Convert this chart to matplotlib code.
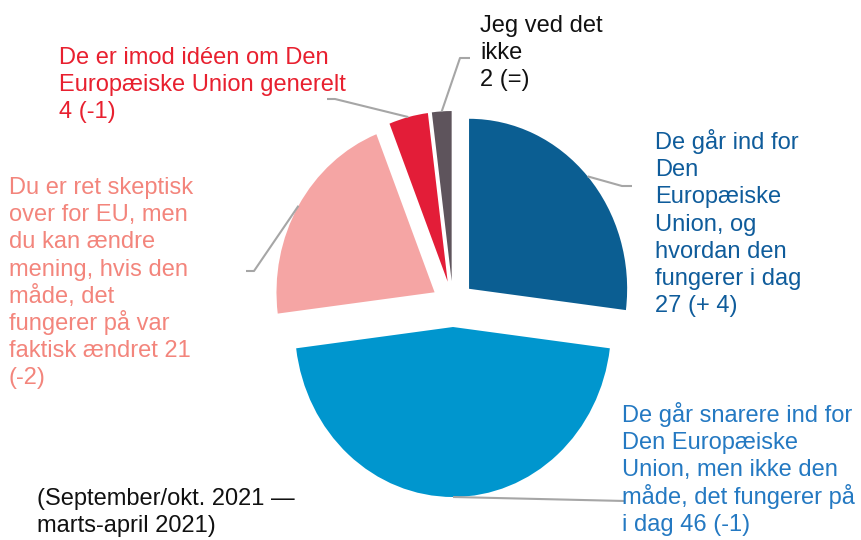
import numpy as np
import matplotlib
matplotlib.use("Agg")
import matplotlib.pyplot as plt

plt.rcParams['font.family'] = ['Liberation Sans', 'DejaVu Sans']

# survey shares (%), clockwise from 12 o'clock
values = [27, 46, 21, 4, 2]
colors = ['#0B5E92', '#0096CE', '#F5A5A4', '#E31D38', '#5E545C']
text_colors = ['#0F5C9B', '#2479C2', '#F3857C', '#E8202F', '#111111']
labels = [
    "De går ind for\nDen\nEuropæiske\nUnion, og\nhvordan den\nfungerer i dag\n27 (+ 4)",
    "De går snarere ind for\nDen Europæiske\nUnion, men ikke den\nmåde, det fungerer på\ni dag 46 (-1)",
    "Du er ret skeptisk\nover for EU, men\ndu kan ændre\nmening, hvis den\nmåde, det\nfungerer på var\nfaktisk ændret 21\n(-2)",
    "De er imod idéen om Den\nEuropæiske Union generelt\n4 (-1)",
    "Jeg ved det\nikke\n2 (=)",
]
footnote = "(September/okt. 2021 —\nmarts-april 2021)"

W, H = 861, 540
K = 1 / 0.93  # pie is a bit squeezed horizontally in the original
PITCH = 27.2

fig = plt.figure(figsize=(W / 100, H / 100), dpi=100)
ax = fig.add_axes([0, 0, 1, 1])


def px(x):
    return x * K


def py(y):
    # pixel row (from top) -> data y
    return H - y


def block(x, y0, txt, color):
    # one text per line so accented lines don't widen the spacing
    for i, line in enumerate(txt.split("\n")):
        ax.text(px(x), py(y0 + i * PITCH), line, color=color, fontsize=17,
                ha='left', va='baseline')


cx, cy, R = px(453), py(304), 170
wedges, _ = ax.pie(values, colors=colors, startangle=90, counterclock=False,
                   center=(cx, cy), radius=R, explode=[23] * len(values),
                   wedgeprops=dict(linewidth=0))
ax.set_aspect('auto')
ax.set_xlim(0, px(W))
ax.set_ylim(0, H)
ax.axis('off')

# first baseline of each label (pixels) and leader elbows
text_pos = [(655, 149), (622, 422), (9, 194), (59, 64), (480, 32)]
elbows = [[(622, 186), (632, 186)],
          [(625, 501)],
          [(254, 271), (246, 271)],
          [(335, 99), (327, 99)],
          [(460, 58), (470, 58)]]

for w, lab, tc, (tx, ty), elb in zip(wedges, labels, text_colors,
                                     text_pos, elbows):
    ang = np.deg2rad((w.theta1 + w.theta2) / 2)
    x0 = w.center[0] + R * np.cos(ang)
    y0 = w.center[1] + R * np.sin(ang)
    xs = [x0] + [px(p[0]) for p in elb]
    ys = [y0] + [py(p[1]) for p in elb]
    ax.plot(xs, ys, color='#A6A6A6', lw=1.5, solid_capstyle='butt')
    block(tx, ty, lab, tc)

block(37, 505, footnote, '#111111')

fig.savefig('out.png', dpi=100)
